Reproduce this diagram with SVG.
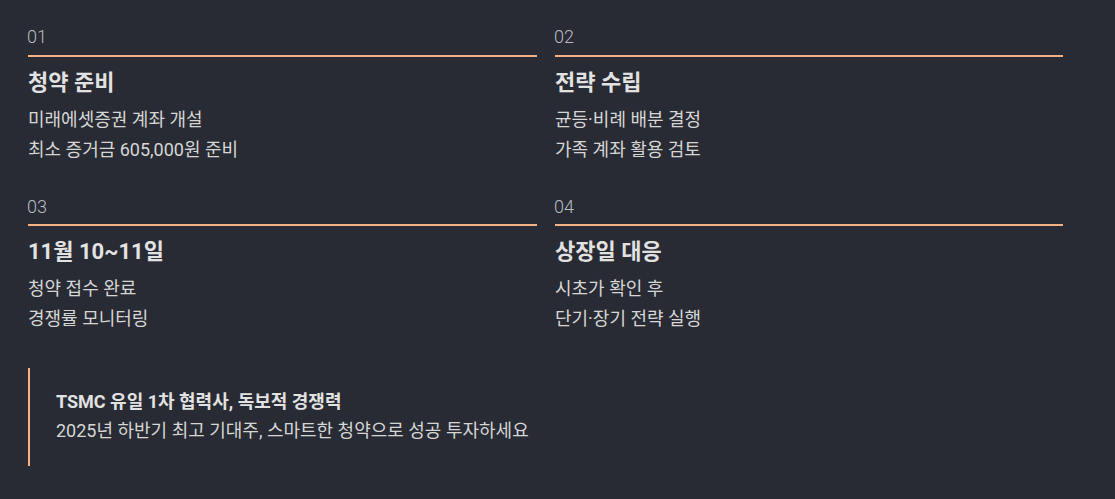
<svg xmlns="http://www.w3.org/2000/svg" width="1115" height="499" viewBox="0 0 1115 499">
<style>
text{font-family:Roboto,"Noto Sans CJK KR",sans-serif}
.num{font-size:18px;fill:#b9bcc2;font-weight:300}
.title{font-size:22px;font-weight:700;fill:#e2e2e2}
.body{font-size:18px;fill:#d6d6d6}
.rule{stroke:#f4b183;stroke-width:2}
.qh{font-size:18px;font-weight:700;fill:#e2e2e2}
.qb{font-size:18px;fill:#d6d6d6}
</style>
<rect width="1115" height="499" fill="#282b33"/>
<g id="step01">
<text class="num" x="27" y="43">01</text>
<line class="rule" x1="28" y1="56" x2="537" y2="56"/>
<text class="title" x="28" y="90">청약 준비</text>
<text class="body" x="28" y="126">미래에셋증권 계좌 개설</text>
<text class="body" x="28" y="156">최소 증거금 605,000원 준비</text>
</g>
<g id="step02">
<text class="num" x="554" y="43">02</text>
<line class="rule" x1="555" y1="56" x2="1063" y2="56"/>
<text class="title" x="555" y="90">전략 수립</text>
<text class="body" x="555" y="126">균등·비례 배분 결정</text>
<text class="body" x="555" y="156">가족 계좌 활용 검토</text>
</g>
<g id="step03">
<text class="num" x="27" y="213">03</text>
<line class="rule" x1="28" y1="225" x2="537" y2="225"/>
<text class="title" x="28" y="259">11월 10~11일</text>
<text class="body" x="28" y="295">청약 접수 완료</text>
<text class="body" x="28" y="325">경쟁률 모니터링</text>
</g>
<g id="step04">
<text class="num" x="554" y="213">04</text>
<line class="rule" x1="555" y1="225" x2="1063" y2="225"/>
<text class="title" x="555" y="259">상장일 대응</text>
<text class="body" x="555" y="295">시초가 확인 후</text>
<text class="body" x="555" y="325">단기·장기 전략 실행</text>
</g>
<g id="quote">
<rect x="28" y="368" width="2" height="98" fill="#f4b183"/>
<text class="qh" x="56" y="408">TSMC 유일 1차 협력사, 독보적 경쟁력</text>
<text class="qb" x="56" y="437">2025년 하반기 최고 기대주, 스마트한 청약으로 성공 투자하세요</text>
</g>
<g id="connectors"></g>
</svg>
